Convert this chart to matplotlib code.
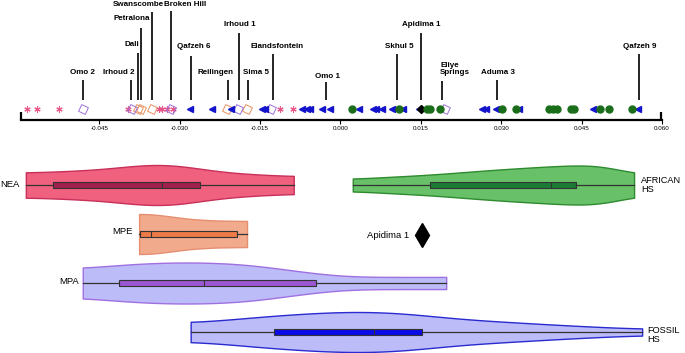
import numpy as np
import matplotlib
matplotlib.use("Agg")
import matplotlib.pyplot as plt

plt.rcParams["font.family"] = ["Liberation Sans", "DejaVu Sans"]

# ---- specimen scores along the axis (one list per group) ----
NEA = [-0.0585, -0.0566, -0.0525, -0.0397, -0.0339, -0.0332, -0.0324, -0.0313, -0.0112, -0.0089]
MPE = [-0.0378, -0.0373, -0.0352, -0.0211, -0.0175]
MPA = [-0.0481, -0.0389, -0.0317, -0.0192, -0.0129, 0.0196]
FOSSIL_HS = [-0.0280, -0.0239, -0.0205, -0.0147, -0.0140, -0.0071, -0.0063, -0.0056, -0.0034,
             -0.0019, 0.0034, 0.0060, 0.0067, 0.0078, 0.0097, 0.0106, 0.0116, 0.0147, 0.0265,
             0.0272, 0.0291, 0.0334, 0.0471, 0.0555]
AFRICAN_HS = [0.0022, 0.0110, 0.0162, 0.0168, 0.0186, 0.0302, 0.0328, 0.0389, 0.0397, 0.0404,
              0.0430, 0.0436, 0.0484, 0.0501, 0.0544]
APIDIMA_1 = 0.0151

# labelled specimens
LABEL_NAMES = ["Omo 2", "Irhoud 2", "Dali", "Petralona", "Swanscombe", "Broken Hill", "Qafzeh 6",
               "Reilingen", "Irhoud 1", "Sima 5", "Elandsfontein", "Omo 1", "Skhul 5",
               "Apidima 1", "Eliye\nSprings", "Aduma 3", "Qafzeh 9"]
LABEL_VALUES = [-0.0481, -0.0391, -0.0378, -0.0373, -0.0352, -0.0317, -0.0278, -0.0209, -0.0190,
                -0.0173, -0.0125, -0.0026, 0.0106, 0.0151, 0.0190, 0.0293, 0.0557]

TICKS = [-0.045, -0.030, -0.015, 0.000, 0.015, 0.030, 0.045, 0.060]

# ---- violin profiles (density knots) and box statistics ----
GROUPS = ["NEA", "MPE", "AFRICAN\nHS", "MPA", "FOSSIL\nHS"]
DENS_X = [
    [-0.0587, -0.0524, -0.0449, -0.0384, -0.0337, -0.0291, -0.0244, -0.0188, -0.0132, -0.0088],
    [-0.0376, -0.0356, -0.0324, -0.0281, -0.0235, -0.0175],
    [0.0022, 0.0166, 0.0291, 0.0384, 0.0445, 0.0483, 0.0520, 0.0546],
    [-0.0481, -0.0412, -0.0319, -0.0225, -0.0151, -0.0101, -0.0048, -0.0007, 0.0041, 0.0196],
    [-0.0280, -0.0225, -0.0164, -0.0076, 0.0035, 0.0134, 0.0203, 0.0328, 0.0451, 0.0561],
]
DENS_Y = [
    [12, 13, 15, 18.5, 20, 18, 14, 11, 9.5, 8.5],
    [20, 20, 18, 15, 13.5, 13],
    [6, 10, 15, 18, 19.5, 19, 15, 10.5],
    [14.5, 18, 20.5, 20, 17, 13, 9.5, 7, 6, 6],
    [9, 11, 14, 17.5, 20, 17.5, 13, 9, 5.5, 3],
]
WHISLO = [-0.0587, -0.0376, 0.0022, -0.0481, -0.0280]
Q1 = [-0.0537, -0.0374, 0.0166, -0.0414, -0.0125]
MEDIAN = [-0.0334, -0.0354, 0.0391, -0.0255, 0.0061]
Q3 = [-0.0263, -0.0194, 0.0438, -0.0047, 0.0151]
WHISHI = [-0.0088, -0.0175, 0.0546, 0.0196, 0.0561]

# ---- layout / style ----
XLIM = (-0.0596, 0.0598)
PX_LEFT, PX_RIGHT = 21, 662
W, H = 685, 353


def px2x(px):
    return XLIM[0] + (px - PX_LEFT) * (XLIM[1] - XLIM[0]) / (PX_RIGHT - PX_LEFT)


# label layout: text centre (px), text y (px), line top (px)
LABEL_TX = [83, 119, 132, 132, 139, 185, 194, 216, 240, 256, 277, 328, 400, 422, 455, 499, 641]
LABEL_TY = [73, 73, 44, 19, 4, 4, 47, 73, 25, 73, 46, 76, 47, 24, 69, 73, 47]
LINE_TOP = [80, 80, 53, 28, 12, 11, 56, 80, 33, 80, 54, 82, 54, 33, 81, 80, 54]

V_POS = [185, 234, 185, 283, 332]
V_WIDTH = [40, 40, 39, 41, 40]
V_FILL = ["#f0607f", "#f2aa8c", "#68c068", "#bcbcf8", "#bcbcf8"]
V_EDGE = ["#c8305a", "#e68e70", "#2e8b2e", "#a070e0", "#2a2ad0"]
B_FILL = ["#a2204e", "#ee7a48", "#1b7a35", "#9a58d2", "#0a0ae6"]

fig = plt.figure(figsize=(W / 100, H / 100), dpi=100)

# ---------------- top strip ----------------
ax = fig.add_axes([PX_LEFT / W, (H - 120) / H, (PX_RIGHT - PX_LEFT) / W, 120 / H])
ax.set_xlim(*XLIM)
ax.set_ylim(120, 0)
for s in ["top", "left", "right"]:
    ax.spines[s].set_visible(False)
ax.spines["bottom"].set_linewidth(1.6)
ax.set_yticks([])
ax.set_xticks(TICKS)
ax.set_xticklabels([f"{t:.3f}" for t in TICKS])
ax.tick_params(axis="x", direction="out", length=3, width=0.8, labelsize=4.5, pad=1.5)
ax.plot([XLIM[0], XLIM[0]], [112, 120], color="black", lw=1.6, clip_on=False,
        solid_capstyle="butt")
ax.plot([XLIM[1], XLIM[1]], [112, 120], color="black", lw=1.6, clip_on=False,
        solid_capstyle="butt")

MY = 109
ax.plot(NEA, [MY] * len(NEA), ls="none", marker=(6, 2, 0), ms=4.5, mew=0.8, color="#e6588a")
ax.plot(MPE, [MY] * len(MPE), ls="none", marker=(4, 0, 20), ms=7.5, mfc="none", mew=0.7,
        color="#e8905e")
ax.plot(MPA, [MY] * len(MPA), ls="none", marker=(4, 0, 20), ms=7.5, mfc="none", mew=0.7,
        color="#9a70d8")
ax.plot(FOSSIL_HS, [MY] * len(FOSSIL_HS), ls="none", marker="<", ms=4.2, color="#1414cc")
ax.plot([APIDIMA_1], [MY], ls="none", marker="D", ms=4, color="black")
ax.plot(AFRICAN_HS, [MY] * len(AFRICAN_HS), ls="none", marker="o", ms=5, color="#1a6e1a")

ax.vlines(LABEL_VALUES, LINE_TOP, [100] * len(LABEL_VALUES), color="black", lw=1.2)
for name, tx, ty in zip(LABEL_NAMES, LABEL_TX, LABEL_TY):
    if "\n" in name:
        ax.text(px2x(441), ty, name, ha="left", va="center", fontsize=5.8, fontweight="bold",
                linespacing=1.0)
    else:
        ax.text(px2x(tx), ty, name, ha="center", va="center", fontsize=5.8, fontweight="bold")


# ---------------- violins ----------------
def smooth_profile(xk, yk, n=400, k=25):
    xs = np.linspace(xk[0], xk[-1], n)
    ys = np.interp(xs, xk, yk)
    win = np.exp(-0.5 * (np.arange(-2 * k, 2 * k + 1) / k) ** 2)
    win /= win.sum()
    pad = np.concatenate([np.full(2 * k, ys[0]), ys, np.full(2 * k, ys[-1])])
    return xs, np.convolve(pad, win, mode="valid")


bx = fig.add_axes([PX_LEFT / W, 0, (PX_RIGHT - PX_LEFT) / W, (H - 150) / H])
bx.set_xlim(*XLIM)
bx.set_ylim(H, 150)
bx.axis("off")

vpstats = []
for xk, yk, lo, hi, med in zip(DENS_X, DENS_Y, WHISLO, WHISHI, MEDIAN):
    xs, ys = smooth_profile(xk, yk)
    vpstats.append(dict(coords=xs, vals=ys, mean=med, median=med, min=lo, max=hi))

parts = bx.violin(vpstats, positions=V_POS, orientation="horizontal", widths=V_WIDTH,
                  showmeans=False, showextrema=False, showmedians=False)
for body, fc, ec in zip(parts["bodies"], V_FILL, V_EDGE):
    body.set_facecolor(fc)
    body.set_edgecolor(ec)
    body.set_linewidth(1.0)
    body.set_alpha(1)

bstats = [dict(whislo=a, q1=b, med=c, q3=d, whishi=e)
          for a, b, c, d, e in zip(WHISLO, Q1, MEDIAN, Q3, WHISHI)]
bp = bx.bxp(bstats, positions=V_POS, widths=6, orientation="horizontal", patch_artist=True,
            showcaps=False, showfliers=False, manage_ticks=False,
            whiskerprops=dict(color="#333333", lw=0.9),
            medianprops=dict(color="#333333", lw=0.8),
            boxprops=dict(edgecolor="#333333", lw=0.8))
for box, fc in zip(bp["boxes"], B_FILL):
    box.set_facecolor(fc)

bx.plot([APIDIMA_1], [235], ls="none", marker="d", ms=12, color="black")
bx.text(px2x(409), 235, "Apidima 1", ha="right", va="center", fontsize=6.8)

bx.text(px2x(20), 185, GROUPS[0], ha="right", va="center", fontsize=6.8)
bx.text(px2x(133), 231, GROUPS[1], ha="right", va="center", fontsize=6.8)
bx.text(px2x(641), 185, GROUPS[2], ha="left", va="center", fontsize=6.6, linespacing=1.1)
bx.text(px2x(79), 281, GROUPS[3], ha="right", va="center", fontsize=6.8)
bx.text(px2x(647), 335, GROUPS[4], ha="left", va="center", fontsize=6.6, linespacing=1.1)

fig.savefig("out.png", dpi=100)
